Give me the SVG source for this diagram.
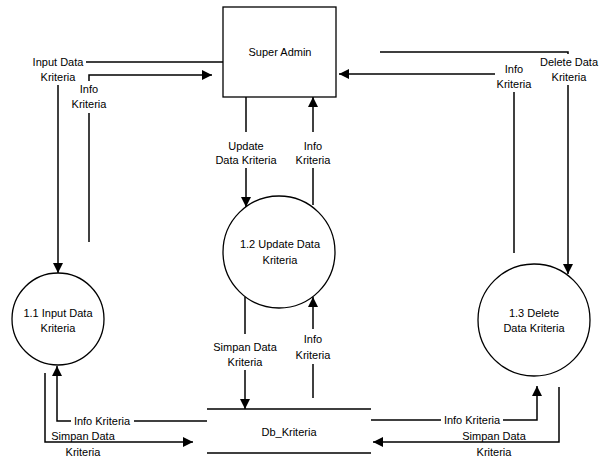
<svg xmlns="http://www.w3.org/2000/svg" width="616" height="459" viewBox="0 0 616 459">
<style>
text{font-family:"Liberation Sans",Arial,sans-serif;font-size:11px;fill:#000;text-anchor:middle;dominant-baseline:central}
.ln{fill:none;stroke:#000;stroke-width:1.5}
.nd{fill:#fff;stroke:#000;stroke-width:1.3}
</style>
<defs>
<marker id="ar" markerUnits="userSpaceOnUse" markerWidth="11" markerHeight="11" refX="10" refY="5" orient="auto">
<path d="M0,0 L10,5 L0,10 z" fill="#000"/>
</marker>
</defs>
<rect width="616" height="459" fill="#fff"/>
<g id="connectors">
<path class="ln" d="M223,62 H86"/>
<path class="ln" d="M58,85 V273" marker-end="url(#ar)"/>
<text x="58" y="62">Input Data</text>
<text x="58" y="77">Kriteria</text>
<path class="ln" d="M89,242 V113"/>
<path class="ln" d="M89,81 V75 H212" marker-end="url(#ar)"/>
<text x="89" y="89">Info</text>
<text x="89" y="104">Kriteria</text>
<path class="ln" d="M246,97 V132"/>
<path class="ln" d="M246,168 V207" marker-end="url(#ar)"/>
<text x="246" y="146">Update</text>
<text x="246" y="160">Data Kriteria</text>
<path class="ln" d="M313,205 V168"/>
<path class="ln" d="M313,132 V97" marker-end="url(#ar)"/>
<text x="313" y="146">Info</text>
<text x="313" y="160">Kriteria</text>
<path class="ln" d="M245,297 V334"/>
<path class="ln" d="M245,370 V409" marker-end="url(#ar)"/>
<text x="245" y="347">Simpan Data</text>
<text x="245" y="362">Kriteria</text>
<path class="ln" d="M313,398 V364"/>
<path class="ln" d="M313,329 V297" marker-end="url(#ar)"/>
<text x="313" y="339">Info</text>
<text x="313" y="355">Kriteria</text>
<path class="ln" d="M380,52 H568 V54"/>
<path class="ln" d="M568,85 V274" marker-end="url(#ar)"/>
<text x="569" y="62">Delete Data</text>
<text x="569" y="77">Kriteria</text>
<path class="ln" d="M514,253 V92"/>
<path class="ln" d="M495,74 H339" marker-end="url(#ar)"/>
<text x="514" y="69">Info</text>
<text x="514" y="84">Kriteria</text>
<path class="ln" d="M207,421 H134"/>
<path class="ln" d="M71,421 H57 V366" marker-end="url(#ar)"/>
<text x="102" y="421">Info Kriteria</text>
<path class="ln" d="M45,373 V442 H193" marker-end="url(#ar)"/>
<text x="83" y="436">Simpan Data</text>
<text x="83" y="452">Kriteria</text>
<path class="ln" d="M371,420 H441"/>
<path class="ln" d="M503,420 H537 V386" marker-end="url(#ar)"/>
<text x="472" y="420">Info Kriteria</text>
<path class="ln" d="M559,387 V442 H373" marker-end="url(#ar)"/>
<text x="494" y="436">Simpan Data</text>
<text x="494" y="452">Kriteria</text>
</g>
<g id="super-admin">
<rect class="nd" x="223" y="7" width="113" height="90"/>
<text x="280" y="52">Super Admin</text>
</g>
<g id="p11">
<circle class="nd" cx="58" cy="319" r="46"/>
<text x="58" y="313">1.1 Input Data</text>
<text x="58" y="328">Kriteria</text>
</g>
<g id="p12">
<circle class="nd" cx="279" cy="252" r="56"/>
<text x="280" y="244">1.2 Update Data</text>
<text x="280" y="260">Kriteria</text>
</g>
<g id="p13">
<circle class="nd" cx="534" cy="320" r="56"/>
<text x="534" y="313">1.3 Delete</text>
<text x="534" y="328">Data Kriteria</text>
</g>
<g id="db-kriteria">
<path class="ln" d="M207,409 H371 M207,453 H371"/>
<text x="289" y="432">Db_Kriteria</text>
</g>
</svg>
